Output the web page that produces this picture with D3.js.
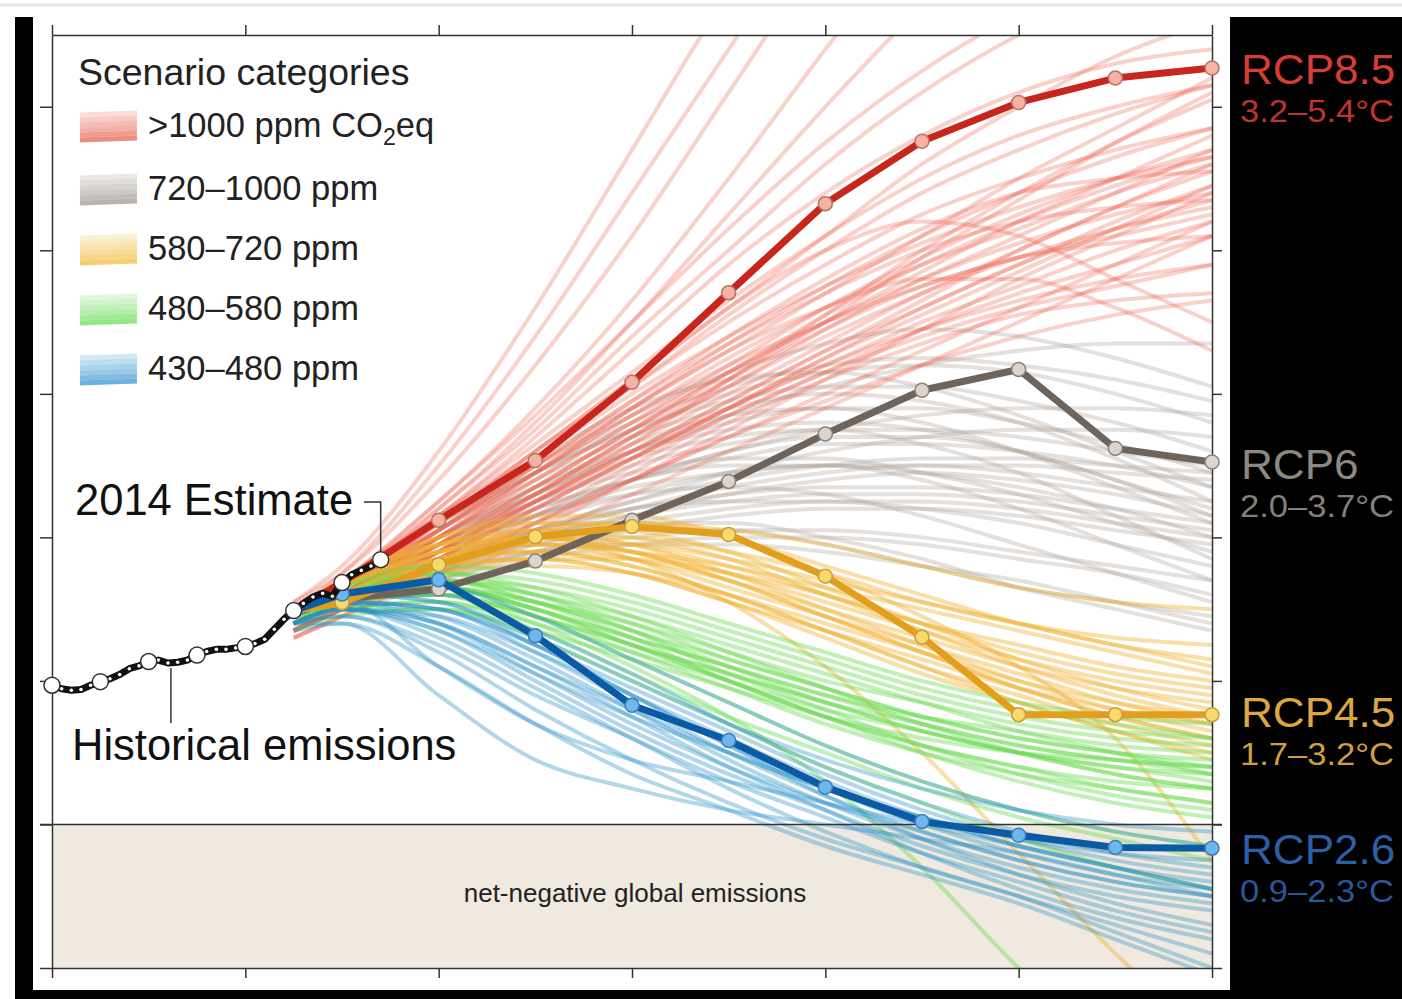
<!DOCTYPE html>
<html>
<head>
<meta charset="utf-8">
<script src="https://cdnjs.cloudflare.com/ajax/libs/d3/7.8.5/d3.min.js"></script>
<style>
body { margin: 0; background: #fff; }
svg { display: block; font-family: "Liberation Sans", Arial, Helvetica, sans-serif; }
</style>
</head>
<body>
<svg id="chart" width="1402" height="999"></svg>
<script>
// annual CO2 emissions, GtCO2/yr
var histYears = [1980, 1981, 1982, 1983, 1984, 1985, 1986, 1987, 1988, 1989, 1990, 1991, 1992, 1993, 1994, 1995, 1996, 1997,
    1998, 1999, 2000, 2001, 2002, 2003, 2004, 2005, 2006, 2007, 2008, 2009, 2010, 2011, 2012, 2013, 2014];
var histValues = [19.4, 18.9, 18.7, 18.8, 19.4, 19.9, 20.3, 20.9, 21.7, 22.1, 22.7, 22.9, 22.5, 22.6, 22.9, 23.6, 24.1, 24.4,
    24.4, 24.6, 24.8, 25.2, 25.8, 27.2, 28.6, 29.8, 30.8, 31.7, 32.2, 31.8, 33.7, 34.8, 35.4, 36.0, 36.9];
var histMarks = [1980, 1985, 1990, 1995, 2000, 2005, 2010, 2014];

var scenYears = [2005, 2010, 2020, 2030, 2040, 2050, 2060, 2070, 2080, 2090, 2100];

var rcp85 = [29.8, 33.7, 42.4, 50.7, 61.6, 74.1, 86.5, 95.2, 100.6, 104.0, 105.4];
var rcp60 = [29.8, 31.4, 32.8, 36.7, 42.4, 47.8, 54.4, 60.5, 63.4, 52.4, 50.5];
var rcp45 = [29.8, 30.9, 36.2, 40.1, 41.5, 40.4, 34.6, 26.1, 15.3, 15.3, 15.3];
var rcp26 = [29.8, 32.1, 34.1, 26.3, 16.6, 11.7, 5.2, 0.4, -1.5, -3.2, -3.3];

var scenRed = [
    [30, 34, 45, 58, 73, 90, 108, 125, 140, 150, 160],
    [31, 35, 48, 64, 82, 102, 122, 140, 150, 158, 162],
    [30, 35, 50, 68, 88, 108, 128, 145, 155, 160, 165],
    [31, 36, 52, 72, 94, 116, 135, 150, 160, 165, 170],
    [29, 33, 44, 55, 68, 80, 92, 102, 110, 116, 120],
    [30, 34, 43, 52, 62, 72, 82, 92, 100, 107, 112],
    [29, 33, 42, 50, 58, 66, 74, 82, 90, 97, 104],
    [28, 32, 40, 48, 56, 63, 70, 77, 84, 90, 96],
    [28, 32, 41, 49, 57, 65, 72, 78, 83, 88, 92],
    [27, 31, 39, 46, 53, 60, 67, 74, 80, 86, 91],
    [29, 33, 42, 52, 61, 70, 78, 85, 90, 94, 97],
    [28, 31, 38, 45, 52, 59, 66, 72, 78, 83, 87],
    [27, 30, 37, 44, 51, 58, 64, 70, 75, 80, 84],
    [28, 32, 40, 47, 55, 62, 69, 75, 79, 82, 85],
    [27, 30, 36, 43, 50, 57, 63, 69, 74, 78, 82],
    [28, 32, 39, 46, 54, 61, 69, 76, 82, 88, 94],
    [29, 33, 41, 50, 59, 68, 76, 83, 88, 90, 91],
    [26, 29, 35, 41, 48, 55, 62, 69, 76, 82, 88],
    [27, 30, 37, 45, 53, 62, 71, 80, 88, 95, 101],
    [28, 31, 38, 46, 54, 62, 70, 79, 87, 95, 102],
    [27, 31, 38, 45, 51, 57, 63, 68, 72, 75, 78],
    [26, 29, 35, 42, 49, 56, 62, 67, 71, 73, 74],
    [28, 32, 40, 49, 58, 66, 72, 76, 76, 72, 66],
    [29, 33, 42, 52, 62, 72, 80, 84, 82, 76, 70],
    [27, 30, 36, 42, 48, 54, 60, 66, 72, 78, 84],
    [30, 34, 44, 56, 70, 85, 100, 114, 126, 136, 144],
    [26, 29, 34, 40, 46, 52, 58, 64, 70, 76, 82],
    [29, 33, 43, 54, 66, 78, 88, 96, 102, 106, 108],
    [28, 32, 41, 51, 61, 71, 80, 88, 94, 99, 103],
    [27, 30, 37, 44, 51, 58, 65, 71, 77, 83, 89],
    [28, 32, 40, 49, 58, 67, 75, 82, 88, 93, 97],
    [29, 33, 42, 51, 60, 68, 75, 81, 86, 90, 93],
    [28, 31, 39, 47, 55, 63, 71, 78, 84, 89, 93],
    [27, 31, 38, 46, 54, 61, 68, 74, 79, 83, 86],
    [29, 33, 41, 50, 59, 67, 74, 80, 84, 86, 87],
    [28, 32, 39, 47, 55, 63, 70, 76, 81, 85, 88],
    [27, 30, 37, 44, 51, 58, 65, 72, 78, 84, 89],
    [28, 32, 40, 48, 56, 64, 72, 79, 85, 90, 94],
    [29, 33, 41, 49, 57, 64, 70, 75, 79, 81, 82],
    [27, 31, 38, 45, 52, 59, 66, 73, 80, 86, 92],
    [28, 31, 38, 45, 52, 58, 64, 69, 73, 76, 78],
    [29, 33, 43, 53, 63, 73, 82, 90, 96, 100, 103],
    [30, 34, 45, 57, 70, 83, 95, 105, 113, 119, 124],
    [27, 30, 36, 42, 48, 54, 59, 64, 68, 71, 73]
];

var scenGray = [
    [29, 33, 40, 46, 52, 57, 61, 64, 66, 67, 67],
    [29, 32, 38, 43, 48, 52, 55, 57, 58, 58, 57],
    [28, 32, 39, 45, 50, 53, 55, 55, 54, 52, 50],
    [30, 34, 42, 49, 55, 59, 61, 61, 59, 56, 52],
    [28, 31, 36, 41, 45, 49, 52, 54, 55, 55, 54],
    [29, 33, 40, 47, 53, 57, 58, 56, 52, 47, 42],
    [28, 31, 37, 42, 46, 49, 50, 50, 49, 47, 45],
    [29, 32, 39, 45, 49, 51, 51, 49, 46, 42, 38],
    [30, 34, 43, 51, 58, 62, 63, 61, 57, 52, 47],
    [28, 31, 36, 40, 43, 45, 46, 46, 45, 43, 41],
    [29, 33, 41, 48, 54, 58, 60, 59, 56, 51, 45],
    [28, 32, 38, 44, 48, 50, 50, 48, 44, 39, 34],
    [27, 30, 35, 39, 42, 44, 45, 45, 44, 42, 40],
    [29, 33, 41, 49, 56, 61, 64, 65, 64, 62, 59],
    [28, 31, 37, 43, 48, 52, 54, 54, 52, 48, 44],
    [30, 33, 40, 46, 51, 54, 55, 53, 49, 43, 37],
    [28, 32, 39, 46, 52, 56, 58, 58, 56, 53, 49],
    [29, 32, 37, 41, 44, 46, 47, 47, 46, 44, 42],
    [27, 30, 35, 40, 44, 47, 49, 50, 50, 49, 48],
    [29, 33, 40, 47, 52, 55, 56, 55, 52, 48, 43],
    [28, 31, 36, 40, 43, 46, 48, 49, 48, 46, 43],
    [30, 34, 42, 50, 57, 63, 67, 69, 68, 65, 61],
    [28, 31, 36, 40, 42, 42, 40, 37, 33, 30, 27],
    [29, 32, 38, 43, 46, 47, 46, 43, 39, 35, 31],
    [28, 31, 35, 38, 40, 41, 41, 40, 38, 36, 34],
    [27, 30, 34, 37, 39, 40, 40, 39, 37, 35, 32],
    [28, 31, 36, 39, 41, 41, 39, 36, 33, 31, 29],
    [29, 32, 37, 41, 44, 45, 45, 44, 42, 39, 36],
    [27, 30, 34, 38, 41, 43, 44, 44, 43, 41, 39],
    [28, 32, 38, 43, 47, 49, 50, 49, 47, 44, 40],
    [29, 33, 39, 44, 48, 51, 53, 53, 52, 50, 47],
    [28, 31, 36, 41, 45, 48, 50, 51, 51, 50, 49],
    [30, 34, 42, 49, 55, 60, 63, 64, 63, 60, 56],
    [28, 31, 35, 38, 39, 39, 38, 36, 34, 31, 28]
];

var scenYellow = [
    [29, 33, 38, 40, 39, 36, 32, 28, 24, 21, 19],
    [30, 34, 40, 42, 41, 38, 33, 28, 23, 19, 16],
    [29, 32, 37, 39, 38, 35, 31, 27, 23, 20, 18],
    [28, 32, 36, 38, 37, 34, 30, 26, 22, 19, 17],
    [30, 34, 39, 41, 39, 35, 30, 25, 20, 16, 13],
    [29, 33, 38, 39, 37, 33, 29, 25, 21, 17, 14],
    [28, 31, 35, 37, 37, 35, 32, 28, 25, 22, 20],
    [29, 33, 39, 42, 42, 40, 36, 32, 28, 25, 22],
    [30, 33, 37, 38, 36, 32, 27, 22, 18, 14, 11],
    [29, 32, 36, 37, 35, 31, 26, 21, 17, 13, 10],
    [28, 32, 37, 40, 40, 38, 35, 31, 28, 26, 25],
    [29, 33, 38, 41, 42, 41, 39, 36, 33, 31, 30],
    [30, 34, 40, 43, 43, 40, 35, 29, 22, 12, -5],
    [29, 33, 38, 40, 37, 31, 22, 10, -4, -18, -30],
    [28, 31, 35, 36, 35, 32, 28, 24, 20, 17, 15],
    [29, 32, 37, 39, 38, 36, 33, 30, 27, 24, 21],
    [30, 34, 39, 40, 38, 34, 29, 24, 19, 15, 12],
    [28, 32, 37, 39, 39, 37, 34, 31, 28, 25, 23],
    [29, 33, 38, 40, 38, 34, 29, 24, 19, 15, 12],
    [28, 32, 36, 37, 35, 31, 27, 23, 19, 16, 14],
    [30, 34, 39, 41, 40, 37, 32, 27, 22, 18, 15],
    [29, 33, 37, 38, 36, 32, 27, 22, 17, 13, 9]
];

var scenGreen = [
    [29, 32, 34, 32, 28, 23, 19, 15, 12, 10, 8],
    [28, 31, 33, 30, 26, 22, 18, 15, 13, 11, 10],
    [29, 32, 35, 34, 31, 27, 23, 19, 16, 14, 12],
    [28, 31, 32, 29, 24, 19, 14, 10, 7, 5, 3],
    [29, 32, 34, 31, 26, 20, 15, 10, 6, 3, 1],
    [28, 31, 33, 31, 28, 24, 20, 17, 14, 12, 11],
    [29, 32, 33, 29, 23, 17, 11, 6, 2, -1, -3],
    [28, 30, 31, 28, 24, 20, 16, 13, 10, 8, 7],
    [29, 33, 36, 35, 32, 28, 24, 20, 17, 15, 14],
    [28, 31, 32, 28, 22, 15, 6, -6, -20, -32, -40],
    [29, 32, 34, 32, 29, 25, 21, 17, 13, 10, 7],
    [28, 30, 31, 27, 21, 15, 10, 5, 1, -2, -5],
    [29, 32, 35, 33, 29, 24, 19, 14, 10, 7, 5],
    [28, 31, 33, 30, 25, 20, 15, 11, 8, 6, 5],
    [27, 29, 30, 27, 23, 19, 15, 12, 10, 9, 8],
    [29, 33, 35, 32, 27, 21, 16, 11, 7, 4, 2],
    [28, 31, 32, 29, 25, 21, 17, 14, 11, 9, 7],
    [29, 32, 34, 33, 30, 26, 22, 18, 15, 13, 12],
    [28, 30, 30, 26, 20, 14, 8, 3, -2, -6, -9],
    [29, 32, 33, 30, 26, 22, 18, 14, 11, 9, 8],
    [29, 32, 34, 31, 27, 22, 17, 13, 10, 8, 6],
    [28, 31, 33, 31, 27, 23, 19, 15, 12, 10, 9],
    [29, 32, 33, 30, 25, 20, 15, 11, 8, 5, 3],
    [28, 31, 32, 29, 25, 21, 17, 13, 10, 7, 5]
];

var scenBlue = [
    [29, 31, 30, 25, 19, 13, 7, 2, -2, -5, -7],
    [28, 30, 28, 22, 16, 10, 5, 1, -3, -6, -8],
    [29, 32, 32, 27, 21, 14, 8, 3, -1, -4, -6],
    [28, 30, 27, 20, 13, 7, 2, -3, -7, -10, -12],
    [29, 31, 29, 23, 16, 9, 3, -2, -6, -9, -11],
    [28, 30, 28, 22, 15, 8, 2, -4, -9, -13, -16],
    [29, 32, 31, 26, 20, 14, 9, 5, 2, 0, -1],
    [28, 30, 26, 19, 12, 5, -1, -6, -10, -14, -18],
    [29, 31, 30, 25, 18, 11, 5, 0, -4, -7, -9],
    [28, 29, 24, 16, 9, 3, -2, -6, -10, -15, -20],
    [29, 32, 33, 29, 23, 17, 11, 6, 2, -1, -3],
    [28, 30, 29, 24, 18, 12, 6, 1, -3, -6, -9],
    [29, 31, 28, 21, 14, 8, 3, -1, -5, -8, -10],
    [27, 28, 22, 14, 7, 2, -3, -7, -11, -16, -21],
    [29, 32, 31, 25, 18, 11, 4, -2, -7, -11, -14],
    [28, 30, 27, 21, 15, 10, 5, 1, -2, -4, -5],
    [29, 31, 30, 24, 17, 10, 4, -1, -5, -8, -10],
    [28, 29, 25, 18, 12, 6, 1, -4, -8, -12, -15],
    [28, 28, 18, 9, 5, 2, 0, -2, -4, -7, -10],
    [29, 31, 22, 14, 9, 6, 3, 0, -3, -6, -9]
];

var legendLabels = [">1000 ppm CO", "720\u20131000 ppm", "580\u2013720 ppm", "480\u2013580 ppm", "430\u2013480 ppm"];
var rcpNames = ["RCP8.5", "RCP6", "RCP4.5", "RCP2.6"];
var rcpRanges = ["3.2\u20135.4\u00b0C", "2.0\u20133.7\u00b0C", "1.7\u20133.2\u00b0C", "0.9\u20132.3\u00b0C"];

var svg = d3.select("#chart");

var x = d3.scaleLinear().domain([1980, 2100]).range([52, 1212]);
var y = d3.scaleLinear().domain([-20, 110]).range([968, 35]);

// frame
svg.append("rect").attr("x", 0).attr("y", 0).attr("width", 1402).attr("height", 999).attr("fill", "#fff");
svg.append("line").attr("x1", 0).attr("x2", 1402).attr("y1", 5).attr("y2", 5)
    .attr("stroke", "#e4e4e4").attr("stroke-width", 3);
svg.append("rect").attr("x", 15).attr("y", 17).attr("width", 1387).attr("height", 982).attr("fill", "#000");
svg.append("rect").attr("x", 33).attr("y", 17).attr("width", 1197).attr("height", 973).attr("fill", "#fff");

svg.append("defs").append("clipPath").attr("id", "plotclip")
    .append("rect")
    .attr("x", x(1980)).attr("y", y(110))
    .attr("width", x(2100) - x(1980)).attr("height", y(-20) - y(110));

// net-negative zone
svg.append("rect")
    .attr("x", x(1980)).attr("y", y(0))
    .attr("width", x(2100) - x(1980)).attr("height", y(-20) - y(0))
    .attr("fill", "#efe9df");

svg.append("text")
    .attr("x", 635).attr("y", 902)
    .attr("text-anchor", "middle")
    .attr("font-size", 26)
    .attr("fill", "#222")
    .text("net-negative global emissions");

var smooth = d3.line()
    .x(function(d, i) { return x(scenYears[i]); })
    .y(function(d) { return y(d); })
    .curve(d3.curveMonotoneX);

var straight = d3.line()
    .x(function(d, i) { return x(scenYears[i]); })
    .y(function(d) { return y(d); });

var fans = [
    { data: scenGray, color: "#b0a49c", op: 0.34 },
    { data: scenRed, color: "#ee6450", op: 0.3 },
    { data: scenYellow, color: "#f0b030", op: 0.42 },
    { data: scenGreen, color: "#6cdc52", op: 0.42 },
    { data: scenBlue, color: "#2a90c8", op: 0.36 }
];

var fanG = svg.append("g").attr("clip-path", "url(#plotclip)");
fans.forEach(function(f) {
    fanG.append("g")
        .selectAll("path")
        .data(f.data)
        .enter().append("path")
        .attr("d", smooth)
        .attr("fill", "none")
        .attr("stroke", f.color)
        .attr("stroke-opacity", f.op)
        .attr("stroke-width", 4);
});

// zero line
svg.append("line")
    .attr("x1", 40).attr("x2", 1222)
    .attr("y1", y(0)).attr("y2", y(0))
    .attr("stroke", "#333").attr("stroke-width", 1.5);

// axes, ticks only
var xTicks = [1980, 2000, 2020, 2040, 2060, 2080, 2100];
var yTicks = [-20, 0, 20, 40, 60, 80, 100];

function styleAxis(g) {
    g.selectAll("path, line").attr("stroke", "#333").attr("stroke-width", 1.5);
}
svg.append("g").attr("transform", "translate(0," + y(110) + ")")
    .call(d3.axisTop(x).tickValues(xTicks).tickSize(10).tickSizeOuter(0).tickFormat(""))
    .call(styleAxis);
svg.append("g").attr("transform", "translate(0," + y(-20) + ")")
    .call(d3.axisBottom(x).tickValues(xTicks).tickSize(10).tickSizeOuter(0).tickFormat(""))
    .call(styleAxis);
svg.append("g").attr("transform", "translate(" + x(1980) + ",0)")
    .call(d3.axisLeft(y).tickValues(yTicks).tickSize(12).tickSizeOuter(0).tickFormat(""))
    .call(styleAxis);
svg.append("g").attr("transform", "translate(" + x(2100) + ",0)")
    .call(d3.axisRight(y).tickValues(yTicks).tickSize(10).tickSizeOuter(0).tickFormat(""))
    .call(styleAxis);

// RCP pathways
var rcps = [
    { data: rcp60, line: "#6f645c", fill: "#dcd4cf", edge: "#8c8179" },
    { data: rcp85, line: "#c8261c", fill: "#f6b2a2", edge: "#b4756a" },
    { data: rcp45, line: "#e29f1d", fill: "#f8da6c", edge: "#c99c3c" },
    { data: rcp26, line: "#0b5aa5", fill: "#6cb7ee", edge: "#3f7db6" }
];

rcps.forEach(function(r) {
    var g = svg.append("g");
    g.append("path")
        .attr("d", straight(r.data))
        .attr("fill", "none")
        .attr("stroke", r.line)
        .attr("stroke-width", 7)
        .attr("stroke-linejoin", "round");
    g.selectAll("circle")
        .data(r.data.slice(1))
        .enter().append("circle")
        .attr("cx", function(d, i) { return x(scenYears[i + 1]); })
        .attr("cy", function(d) { return y(d); })
        .attr("r", 7)
        .attr("fill", r.fill)
        .attr("stroke", r.edge)
        .attr("stroke-width", 1.5);
});

// historical emissions
var hist = d3.line()
    .x(function(d, i) { return x(histYears[i]); })
    .y(function(d) { return y(d); });

svg.append("path")
    .attr("d", hist(histValues))
    .attr("fill", "none")
    .attr("stroke", "#111")
    .attr("stroke-width", 7)
    .attr("stroke-linejoin", "round");

svg.append("g").selectAll("circle")
    .data(histValues)
    .enter().append("circle")
    .attr("cx", function(d, i) { return x(histYears[i]); })
    .attr("cy", function(d) { return y(d); })
    .attr("r", 1.8)
    .attr("fill", "#fff");

svg.append("g").selectAll("circle")
    .data(histMarks)
    .enter().append("circle")
    .attr("cx", function(d) { return x(d); })
    .attr("cy", function(d) { return y(histValues[histYears.indexOf(d)]); })
    .attr("r", 8)
    .attr("fill", "#fff")
    .attr("stroke", "#333")
    .attr("stroke-width", 1.5);

// annotations
svg.append("text")
    .attr("x", 75).attr("y", 515)
    .attr("font-size", 43.5)
    .attr("fill", "#111")
    .text("2014 Estimate");
svg.append("path")
    .attr("d", "M364," + 502 + "H" + x(2014) + "V" + (y(36.9) - 8))
    .attr("fill", "none").attr("stroke", "#333").attr("stroke-width", 1.5);

svg.append("text")
    .attr("x", 72).attr("y", 760)
    .attr("font-size", 43.5)
    .attr("fill", "#111")
    .text("Historical emissions");
svg.append("line")
    .attr("x1", x(1992.3)).attr("x2", x(1992.3))
    .attr("y1", y(22.5) + 5).attr("y2", 723)
    .attr("stroke", "#333").attr("stroke-width", 1.5);

// legend
var legendY = [137, 200, 260, 320, 380];
var legendColors = ["#e8604f", "#a0958e", "#f0bb3a", "#6cdc5c", "#3394d0"];
var swatchRows = [0, 5, 10, 15, 20, 25];
var swatchOps = [0.22, 0.32, 0.42, 0.5, 0.62, 0.72];

svg.append("text")
    .attr("x", 78).attr("y", 85)
    .attr("font-size", 37.5)
    .attr("fill", "#222")
    .text("Scenario categories");

var legend = svg.append("g").selectAll("g")
    .data(legendLabels)
    .enter().append("g");

legend.each(function(d, i) {
    var g = d3.select(this);
    g.selectAll("line")
        .data(swatchRows)
        .enter().append("line")
        .attr("x1", 80).attr("x2", 137)
        .attr("y1", function(r) { return legendY[i] - 22 + r; })
        .attr("y2", function(r) { return legendY[i] - 24 + r; })
        .attr("stroke", legendColors[i])
        .attr("stroke-opacity", function(r, k) { return swatchOps[k]; })
        .attr("stroke-width", 5);
    var t = g.append("text")
        .attr("x", 148).attr("y", legendY[i])
        .attr("font-size", 34.5)
        .attr("fill", "#222")
        .text(d);
    if (i === 0) {
        t.append("tspan").attr("font-size", 23).attr("dy", 8).text("2");
        t.append("tspan").attr("dy", -8).text("eq");
    }
});

// right-hand RCP labels, kept inside the window
var rcpLabelY = [84, 479, 727, 864];
var rcpLabelColors = ["#d83c36", "#8e8883", "#dca642", "#2d5fa6"];
var rcpSubColors = ["#c0342f", "#85807b", "#d19e3e", "#2a5799"];

rcpNames.forEach(function(n, i) {
    svg.append("text")
        .attr("transform", "translate(1241," + rcpLabelY[i] + ") scale(1.05,1)")
        .attr("font-size", 42)
        .attr("fill", rcpLabelColors[i])
        .text(n);
    svg.append("text")
        .attr("transform", "translate(1240," + (rcpLabelY[i] + 38) + ") scale(1.08,1)")
        .attr("font-size", 32)
        .attr("fill", rcpSubColors[i])
        .text(rcpRanges[i]);
});
</script>
</body>
</html>
